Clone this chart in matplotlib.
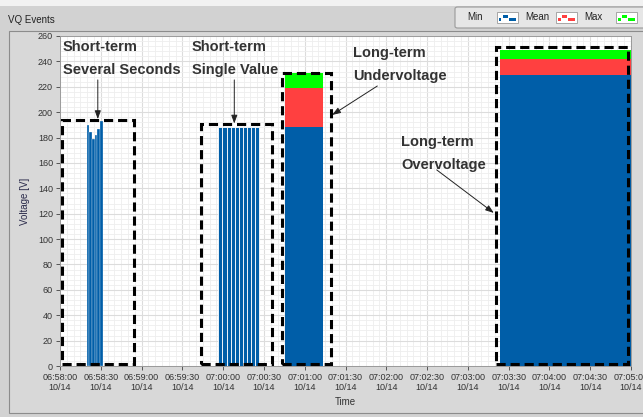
import matplotlib.pyplot as plt
from matplotlib.patches import Rectangle, FancyBboxPatch
from matplotlib.ticker import MultipleLocator, FuncFormatter

# --- data (seconds after 06:58:00 on 10/14) ---
burst_start = [19.5, 21.5, 23.5, 25.5, 27.5, 29.5]
burst_width = [2.0, 2.0, 2.0, 2.0, 2.0, 2.0]
burst_min = [190, 184, 179, 182, 187, 193]

single_start = [116.5, 119.5, 122.5, 125.5, 128.5, 131.5, 134.5, 137.5, 140.5, 143.5]
single_width = [3.0] * 10
single_min = [188] * 10

long_start = [165.8, 323.5]
long_width = [28.0, 96.5]
long_min = [188, 229]
long_mean = [219, 242]
long_max = [231, 249]

# dashed boxes: (x0, x1, y0, y1)
box_x0 = [1.5, 103.7, 163.4, 320.5]
box_x1 = [54.5, 156.2, 199.0, 417.8]
box_y0 = [1.6, 1.6, 1.6, 1.6]
box_y1 = [194, 190.5, 230.5, 251.5]

notes = ["Short-term\nSeveral Seconds", "Short-term\nSingle Value",
         "Long-term\nUndervoltage", "Long-term\nOvervoltage"]
note_xy = [(2.2, 251), (97, 251), (215.7, 246.6), (251, 176.7)]
arrow_from = [(27.8, 225.4), (128.2, 225.4), (233.4, 220.6), (277.1, 154.5)]
arrow_to = [(27.8, 194.5), (128.2, 191.0), (200.2, 197.8), (319.1, 120.6)]

BLUE = '#005ea8'
RED = '#ff4040'
GREEN = '#00ff00'
TXT = '#333333'

plt.rcParams['font.family'] = ['Liberation Sans', 'DejaVu Sans']

fig = plt.figure(figsize=(6.43, 4.17), dpi=100, facecolor='#d2d2d2')

# top strip + graph panel
fig.patches.append(Rectangle((0, 1 - 6 / 417), 1, 6 / 417, transform=fig.transFigure,
                             facecolor='#f2f2f2', edgecolor='none', zorder=-5))
fig.patches.append(Rectangle((9 / 643, 1 - 413 / 417), 640 / 643, 382 / 417,
                             transform=fig.transFigure, facecolor='#d8d8d8',
                             edgecolor='#8c8c8c', lw=0.8, zorder=-5))
fig.text(8 / 643, 1 - 20 / 417, "VQ Events", fontsize=7, color='#222222', va='center')

# legend box
fig.patches.append(FancyBboxPatch((455 / 643, 1 - 28 / 417), 195 / 643, 21 / 417,
                                  boxstyle='round,pad=0,rounding_size=0.004',
                                  transform=fig.transFigure, facecolor='#e6e6e6',
                                  edgecolor='#9a9a9a', lw=0.8, zorder=-4))
leg_names = ["Min", "Mean", "Max"]
leg_colors = [BLUE, RED, GREEN]
leg_text_x = [467, 525, 584]
leg_icon_x = [497, 556, 616]
for name, col, tx, ix in zip(leg_names, leg_colors, leg_text_x, leg_icon_x):
    fig.text(tx / 643, 1 - 17.5 / 417, name, fontsize=7, color='#222222', va='center')
    fig.patches.append(Rectangle((ix / 643, 1 - 23 / 417), 21 / 643, 11 / 417,
                                 transform=fig.transFigure, facecolor='white',
                                 edgecolor='#9a9a9a', lw=0.6, zorder=-3))
    for dx, dy, w in [(1.5, 2, 3), (6, 5, 5), (12, 2, 7)]:
        fig.patches.append(Rectangle(((ix + dx) / 643, 1 - (23 - dy) / 417), w / 643, 3.5 / 417,
                                     transform=fig.transFigure, facecolor=col,
                                     edgecolor='none', zorder=-2))

ax = fig.add_axes([60 / 643, 1 - 366 / 417, 571 / 643, 330 / 417])
ax.set_facecolor('white')
ax.set_xlim(0, 420)
ax.set_ylim(0, 260)

# bars: max behind, then mean, then min in front
ax.bar(long_start, long_max, width=long_width, align='edge', color=GREEN, zorder=3)
ax.bar(long_start, long_mean, width=long_width, align='edge', color=RED, zorder=4)
ax.bar(long_start, long_min, width=long_width, align='edge', color=BLUE, zorder=5)
ax.bar(burst_start, burst_min, width=burst_width, align='edge', color=BLUE,
       edgecolor='white', linewidth=0.2, zorder=5)
ax.bar(single_start, single_min, width=single_width, align='edge', color=BLUE,
       edgecolor='white', linewidth=0.6, zorder=5)

for x0, x1, y0, y1 in zip(box_x0, box_x1, box_y0, box_y1):
    ax.add_patch(Rectangle((x0, y0), x1 - x0, y1 - y0, fill=False, edgecolor='black',
                           lw=2.2, linestyle=(0, (3, 1.6)), zorder=6, clip_on=False))

for txt, (tx, ty) in zip(notes, note_xy):
    line1, line2 = txt.split("\n")
    ax.text(tx, ty, line1, fontsize=10.5, fontweight='bold', color=TXT, va='center', zorder=7)
    ax.text(tx, ty - 18, line2, fontsize=10.5, fontweight='bold', color=TXT, va='center', zorder=7)

for (fx, fy), (tx, ty) in zip(arrow_from, arrow_to):
    ax.annotate("", xy=(tx, ty), xytext=(fx, fy), zorder=7,
                arrowprops=dict(arrowstyle='-|>,head_length=0.5,head_width=0.18',
                                color='#222222', lw=0.7, shrinkA=0, shrinkB=0))

# grid
ax.xaxis.set_major_locator(MultipleLocator(30))
ax.xaxis.set_minor_locator(MultipleLocator(5))
ax.yaxis.set_major_locator(MultipleLocator(20))
ax.yaxis.set_minor_locator(MultipleLocator(4))
ax.grid(which='major', color='#dcdcdc', lw=0.8, zorder=0)
ax.grid(which='minor', color='#eeeeee', lw=0.6, zorder=0)
ax.set_axisbelow(True)


def time_label(s, pos):
    total = 6 * 3600 + 58 * 60 + int(round(s))
    h, m, sec = total // 3600, (total // 60) % 60, total % 60
    return f"{h:02d}:{m:02d}:{sec:02d}\n10/14"


ax.xaxis.set_major_formatter(FuncFormatter(time_label))
ax.tick_params(which='major', length=3, width=0.7, color='#555555',
               labelsize=6.5, labelcolor=TXT, pad=2)
ax.tick_params(which='minor', length=0)
for sp in ax.spines.values():
    sp.set_color('#9a9a9a')
    sp.set_linewidth(0.7)

ax.set_xlabel("Time", fontsize=7, color=TXT, labelpad=3)
ax.set_ylabel("Voltage [V]", fontsize=7, color='#2a2a4a', labelpad=6)

fig.savefig("out.png", dpi=100, facecolor=fig.get_facecolor())
